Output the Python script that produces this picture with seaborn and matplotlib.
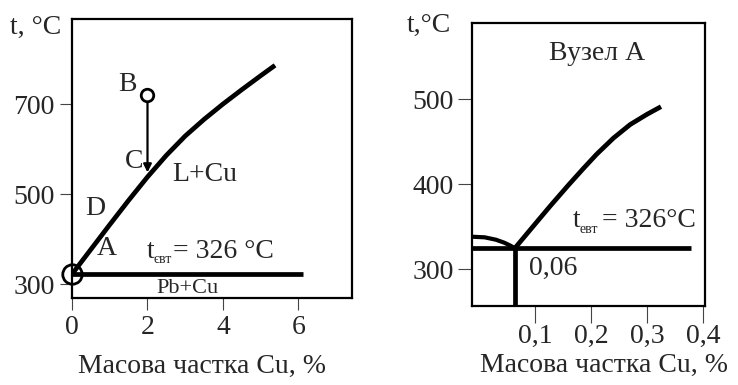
import matplotlib
matplotlib.use('Agg')
import matplotlib.pyplot as plt
import seaborn as sns

# left panel: Pb-Cu diagram
liq_x = [0, 0.5, 1, 1.5, 2, 2.5, 3, 3.5, 4, 4.5, 5, 5.38]
liq_t = [322, 377, 432, 486, 538, 586, 629, 666, 700, 732, 763, 786]
eut_x = [0, 6.12]
eut_t = [322, 322]
point_b = (2, 720)
point_c = (2, 548)
point_a = (0, 322)
left_yticks = [300, 500, 700]
left_xticks = [0, 2, 4, 6]

# right panel: node A
node_liq_x = [0.064, 0.09, 0.127, 0.16, 0.186, 0.21, 0.24, 0.27, 0.30, 0.325]
node_liq_t = [324.5, 345, 374, 399, 418, 435, 454, 470, 482, 491]
node_sol_x = [-0.0125, 0.01, 0.03, 0.045, 0.056, 0.064]
node_sol_t = [338, 337.3, 334.5, 331, 327.5, 324.5]
node_eut_x = [-0.0125, 0.379]
node_eut_t = [324.5, 324.5]
node_vert_x = [0.064, 0.064]
node_vert_t = [250, 324.5]
right_yticks = [300, 400, 500]
right_xticks = [0.1, 0.2, 0.3, 0.4]
right_xlabels = ['0,1', '0,2', '0,3', '0,4']

sns.set_style('white')
plt.rcParams['font.family'] = ['Liberation Serif', 'DejaVu Serif']

fig = plt.figure(figsize=(7.38, 3.85), dpi=100)
ax1 = fig.add_axes([0.0976, 0.226, 0.3794, 0.7247])
ax2 = fig.add_axes([0.6396, 0.2052, 0.3157, 0.735])

fs = 20
for ax in (ax1, ax2):
    for s in ax.spines.values():
        s.set_linewidth(1.6)
        s.set_color('black')


def curve(ax, x, y, lw=3.4):
    sns.lineplot(x=x, y=y, ax=ax, color='black', lw=lw, sort=False,
                 estimator=None, solid_capstyle='butt')


def t_label(ax, x, y, sub, rest, rest_dx):
    # 't' with a small subscript, then the rest on the same baseline
    ax.annotate('t', xy=(x, y), xytext=(0, 0), textcoords='offset points',
                fontsize=fs, ha='left', va='baseline')
    ax.annotate(sub, xy=(x, y), xytext=(4.6, -4), textcoords='offset points',
                fontsize=10, ha='left', va='baseline')
    ax.annotate(rest, xy=(x, y), xytext=(rest_dx, 0), textcoords='offset points',
                fontsize=fs, ha='left', va='baseline')


# ---- left
curve(ax1, liq_x, liq_t)
curve(ax1, eut_x, eut_t)
ax1.plot(*point_a, 'o', ms=14, mfc='none', mec='black', mew=2, clip_on=False, zorder=6)
ax1.plot(*point_b, 'o', ms=9, mfc='white', mec='black', mew=2, zorder=5)
ax1.annotate('', xy=point_c, xytext=(point_b[0], point_b[1] - 8),
             arrowprops=dict(arrowstyle='-|>', color='black', lw=1.6,
                             mutation_scale=12, shrinkA=0, shrinkB=0))
ax1.set_xlim(0, 7.42)
ax1.set_ylim(269, 889)
ax1.set_xticks(left_xticks)
ax1.set_yticks(left_yticks)
ax1.tick_params(axis='both', direction='out', length=8.5, width=0.8,
                color='#444444', labelsize=fs, pad=4, bottom=True, left=True)
ax1.text(1.46, 744, 'B', fontsize=fs, ha='center', va='center')
ax1.text(1.64, 573, 'C', fontsize=fs, ha='center', va='center')
ax1.text(3.52, 544, 'L+Cu', fontsize=fs, ha='center', va='center')
ax1.text(0.62, 467, 'D', fontsize=fs, ha='center', va='center')
ax1.text(0.93, 378, 'A', fontsize=fs, ha='center', va='center')
t_label(ax1, 1.99, 358, 'євт', '= 326 °C', 18.5)
ax1.text(3.05, 290, 'Pb+Cu', fontsize=16, ha='center', va='center')
fig.text(202 / 738, 1 - 366 / 385, 'Масова частка Cu, %', fontsize=fs,
         ha='center', va='center')
fig.text(10 / 738, 1 - 27 / 385, 't, °C', fontsize=fs, ha='left', va='center')

# ---- right
curve(ax2, node_liq_x, node_liq_t)
curve(ax2, node_sol_x, node_sol_t, lw=3.0)
curve(ax2, node_eut_x, node_eut_t)
curve(ax2, node_vert_x, node_vert_t)
ax2.set_xlim(-0.0125, 0.4036)
ax2.set_ylim(256.5, 589.4)
ax2.set_xticks(right_xticks)
ax2.set_xticklabels(right_xlabels)
ax2.set_yticks(right_yticks)
ax2.tick_params(axis='x', direction='out', length=12, width=0.8,
                color='#444444', labelsize=fs, pad=1, bottom=True)
ax2.tick_params(axis='y', direction='out', length=10, width=0.8,
                color='#444444', labelsize=fs, pad=3, left=True)
ax2.text(0.211, 554, 'Вузел А', fontsize=fs, ha='center', va='center')
t_label(ax2, 0.168, 349, 'евт', '= 326°C', 21)
ax2.text(0.132, 301, '0,06', fontsize=fs, ha='center', va='center')
fig.text(604 / 738, 1 - 365 / 385, 'Масова частка Cu, %', fontsize=fs,
         ha='center', va='center')
fig.text(407 / 738, 1 - 25 / 385, 't,°C', fontsize=fs, ha='left', va='center')

fig.savefig('out.png', dpi=100)
